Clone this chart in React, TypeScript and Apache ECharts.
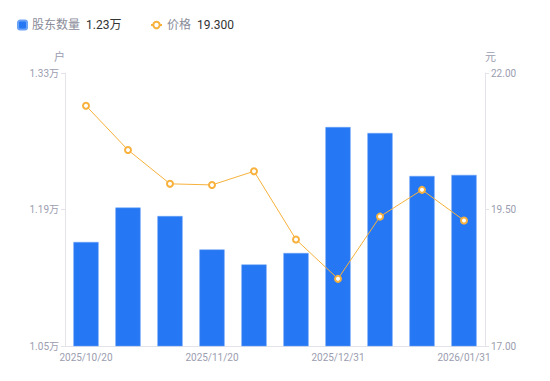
import React, { useEffect, useRef } from "react";
import * as echarts from "echarts";

const categories = [
  "2025/10/20", "2025/10/31", "2025/11/10", "2025/11/20", "2025/11/30",
  "2025/12/10", "2025/12/31", "2026/01/10", "2026/01/20", "2026/01/31",
];
const holders = [11567, 11920, 11833, 11490, 11336, 11454, 12746, 12685, 12244, 12255];
const prices = [21.4, 20.59, 19.97, 19.95, 20.2, 18.95, 18.23, 19.37, 19.86, 19.3];
const leftTicks = [10500, 11900, 13300];
const rightTicks = [17, 19.5, 22];

export default function App() {
  const ref = useRef<HTMLDivElement>(null);
  useEffect(() => {
    const chart = echarts.init(ref.current!, null, { renderer: "svg" });
    const axisLabelColor = "#9b9db0";
    const axisLineColor = "#e3e4ea";
    const formatter = (name: string) => {
      if (name === "股东数量") {
        const v = holders[holders.length - 1] / 10000;
        return `{n|${name}}{v|${v.toFixed(2)}万}`;
      }
      return `{n|${name}}{v|${prices[prices.length - 1].toFixed(3)}}`;
    };
    const textStyle = {
      rich: {
        n: { color: "#8a8c99", fontSize: 12, padding: [0, 6, 0, 0] },
        v: { color: "#333333", fontSize: 12 },
      },
    };
    chart.setOption({
      animation: false,
      textStyle: { fontFamily: "Roboto, 'Noto Sans CJK SC', sans-serif" },
      legend: [
        {
          left: 12,
          top: 14,
          itemWidth: 9,
          itemHeight: 9,
          data: [{ name: "股东数量", icon: "roundRect" }],
          formatter,
          textStyle,
        },
        {
          left: 145,
          top: 14,
          itemWidth: 11,
          itemHeight: 8,
          data: [{ name: "价格" }],
          formatter,
          textStyle,
        },
      ],
      grid: { left: 65, right: 65, top: 73, bottom: 35 },
      xAxis: {
        type: "category",
        data: categories,
        axisLine: { lineStyle: { color: axisLineColor } },
        axisTick: { show: false },
        axisLabel: {
          interval: 2,
          color: axisLabelColor,
          fontSize: 10,
          margin: 6,
        },
      },
      yAxis: [
        {
          type: "value",
          name: "户",
          nameGap: 10,
          nameTextStyle: { color: axisLabelColor, fontSize: 11, align: "right" },
          min: leftTicks[0],
          max: leftTicks[leftTicks.length - 1],
          interval: leftTicks[1] - leftTicks[0],
          axisLine: { show: true, lineStyle: { color: axisLineColor } },
          axisTick: { show: true, length: 4, lineStyle: { color: axisLineColor } },
          splitLine: { show: false },
          axisLabel: {
            color: axisLabelColor,
            fontSize: 10,
            margin: 6,
            formatter: (v: number) => (v / 10000).toFixed(2) + "万",
          },
        },
        {
          type: "value",
          name: "元",
          nameGap: 10,
          nameTextStyle: { color: axisLabelColor, fontSize: 11, align: "left" },
          min: rightTicks[0],
          max: rightTicks[rightTicks.length - 1],
          interval: rightTicks[1] - rightTicks[0],
          axisLine: { show: true, lineStyle: { color: axisLineColor } },
          axisTick: { show: true, length: 4, lineStyle: { color: axisLineColor } },
          splitLine: { show: false },
          axisLabel: {
            color: axisLabelColor,
            fontSize: 10,
            margin: 6,
            formatter: (v: number) => v.toFixed(2),
          },
        },
      ],
      series: [
        {
          name: "股东数量",
          type: "bar",
          data: holders,
          barWidth: "60%",
          yAxisIndex: 0,
          itemStyle: { color: "#2677f3", borderColor: "#6aa2f7", borderWidth: 0.5 },
        },
        {
          name: "价格",
          type: "line",
          data: prices,
          yAxisIndex: 1,
          symbol: "emptyCircle",
          symbolSize: 6,
          lineStyle: { color: "#f7b13c", width: 1 },
          itemStyle: { color: "#f7b13c", borderWidth: 2 },
        },
      ],
    });
    return () => chart.dispose();
  }, []);
  return <div ref={ref} style={{ width: 550, height: 381, position: "absolute", left: 0, top: 0 }} />;
}
